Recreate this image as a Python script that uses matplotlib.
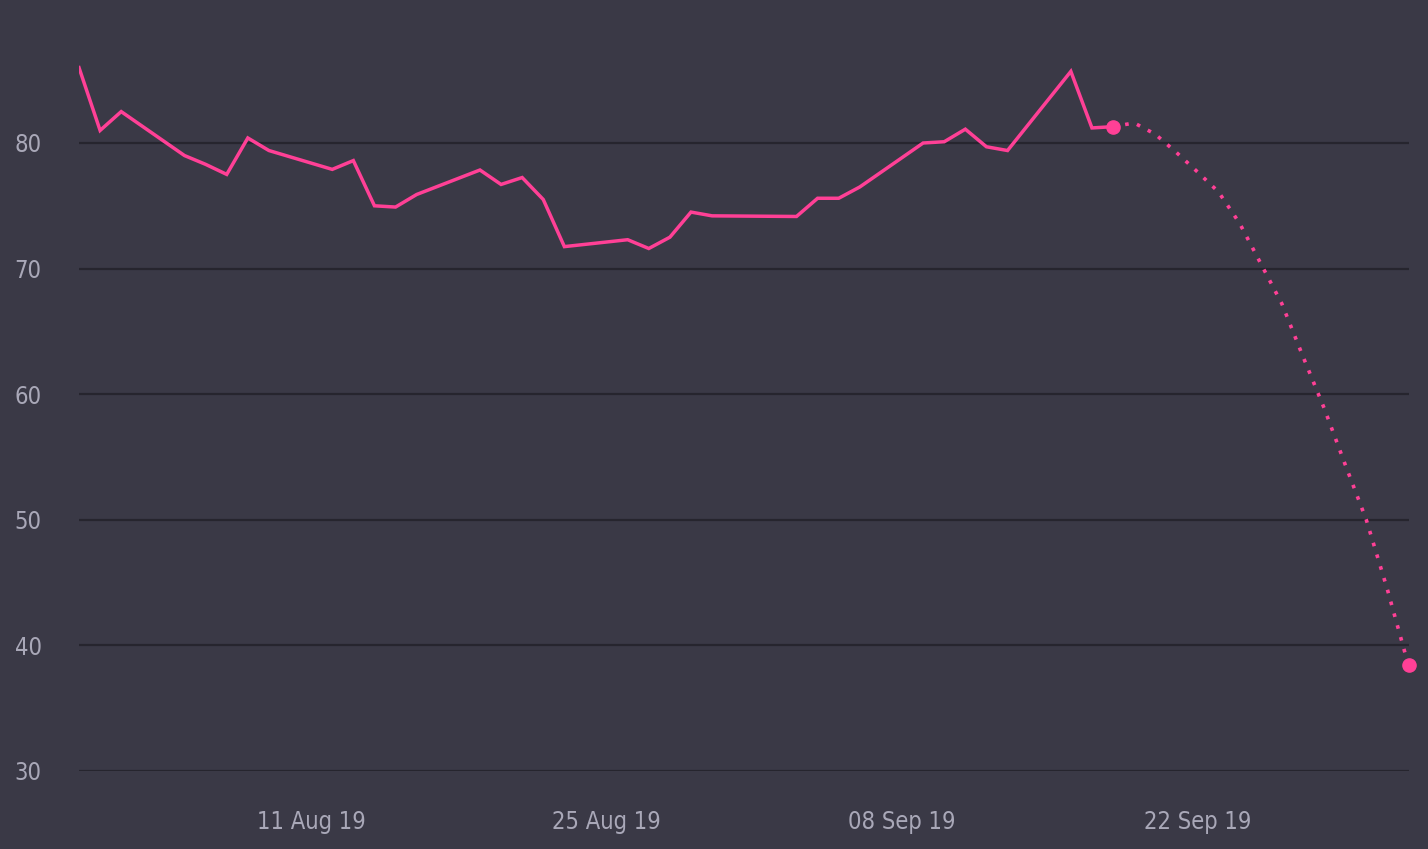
# Recreates the dark single-series chart with a dotted forecast tail.
import numpy as np
import matplotlib
matplotlib.use('Agg')
import matplotlib.pyplot as plt
import matplotlib.dates as mdates

# Observed values (business days)
actual_dates = [
    '2019-07-31', '2019-08-01', '2019-08-02', '2019-08-05', '2019-08-06',
    '2019-08-07', '2019-08-08', '2019-08-09', '2019-08-12', '2019-08-13',
    '2019-08-14', '2019-08-15', '2019-08-16', '2019-08-19', '2019-08-20',
    '2019-08-21', '2019-08-22', '2019-08-23', '2019-08-26', '2019-08-27',
    '2019-08-28', '2019-08-29', '2019-08-30', '2019-09-03', '2019-09-04',
    '2019-09-05', '2019-09-06', '2019-09-09', '2019-09-10', '2019-09-11',
    '2019-09-12', '2019-09-13', '2019-09-16', '2019-09-17', '2019-09-18',
]
actual_values = [
    86.0, 81.0, 82.5, 79.0, 78.3,
    77.5, 80.4, 79.4, 77.9, 78.6,
    75.0, 74.9, 75.9, 77.85, 76.7,
    77.25, 75.5, 71.75, 72.3, 71.6,
    72.5, 74.5, 74.2, 74.15, 75.6,
    75.6, 76.5, 80.0, 80.1, 81.1,
    79.7, 79.4, 85.7, 81.2, 81.3,
]

# Forecast values
forecast_dates = [
    '2019-09-18', '2019-09-19', '2019-09-20', '2019-09-21', '2019-09-22',
    '2019-09-23', '2019-09-24', '2019-09-25', '2019-09-26', '2019-09-27',
    '2019-09-28', '2019-09-29', '2019-09-30', '2019-10-01', '2019-10-02',
]
forecast_values = [
    81.3, 81.6, 80.7, 79.25, 77.7,
    76.1, 73.6, 70.4, 67.2, 63.0,
    58.9, 54.4, 50.0, 44.45, 38.4,
]

y_ticks = [30, 40, 50, 60, 70, 80]
x_ticks = ['2019-08-11', '2019-08-25', '2019-09-08', '2019-09-22']

BG = '#3a3946'
GRID = '#26252e'
PINK = '#ff4096'
TEXT = '#a9a8b8'

plt.rcParams['font.family'] = ['DejaVu Sans']
plt.rcParams['font.stretch'] = 'condensed'


def main():
    ad = np.array(actual_dates, dtype='datetime64[D]')
    fd = np.array(forecast_dates, dtype='datetime64[D]')

    fig = plt.figure(figsize=(14.28, 8.49), dpi=100, facecolor=BG)
    ax = fig.add_axes([79 / 1428, 78 / 849, 1329.5 / 1428, 771 / 849])
    ax.set_facecolor(BG)

    ax.plot(ad, actual_values, color=PINK, lw=2.5, solid_joinstyle='miter', zorder=3)
    ax.plot(fd, forecast_values, color=PINK, lw=2.6, linestyle=(0, (1, 2.4)),
            dash_capstyle='butt', zorder=3, clip_on=False)
    ax.plot([fd[0], fd[-1]], [forecast_values[0], forecast_values[-1]], 'o',
            color=PINK, markersize=9.5, zorder=4, clip_on=False)

    ax.set_ylim(30, 30 + 771 / 12.56)
    ax.set_xlim(ad[0], fd[-1])

    ax.set_yticks(y_ticks)
    ax.set_xticks(np.array(x_ticks, dtype='datetime64[D]'))
    ax.xaxis.set_major_formatter(mdates.DateFormatter('%d %b %y'))
    ax.grid(axis='y', color=GRID, lw=1.6)
    ax.grid(axis='x', visible=False)
    ax.set_axisbelow(True)
    for s in ax.spines.values():
        s.set_visible(False)
    ax.tick_params(axis='both', length=0, colors=TEXT, labelsize=17)
    ax.tick_params(axis='y', pad=27)
    ax.tick_params(axis='x', pad=28)
    for lab in ax.get_yticklabels():
        lab.set_horizontalalignment('right')

    fig.savefig('out.png', dpi=100, facecolor=BG)


if __name__ == '__main__':
    main()
